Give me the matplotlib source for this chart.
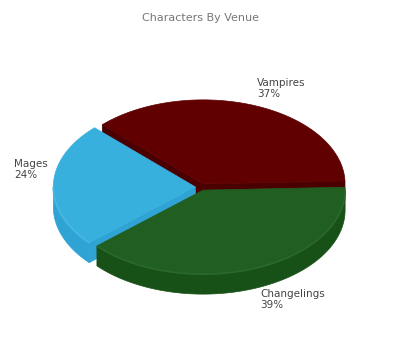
import numpy as np
import matplotlib.pyplot as plt
from matplotlib.patches import Polygon

title = "Characters By Venue"
venues = ["Vampires", "Mages", "Changelings"]
counts = [37, 24, 39]
explode = [0.04, 0.04, 0.04]

top_colors = ["#600000", "#38b0de", "#215e21"]
rim_colors = ["#6a0a0a", "#48b8e2", "#2b692b"]
side_colors = ["#4a0000", "#2fa4d4", "#175117"]

# pie geometry (pixels)
cx, cy = 201, 187
rx, ry = 142, 84
depth = 20
start = np.deg2rad(2)
label_xy = [(257, 78), (14, 159), (260, 289)]


def arc(t0, t1, ox, oy, dz=0, n=80):
    t = np.linspace(t0, t1, n)
    return np.column_stack([ox + rx * np.cos(t), oy - ry * np.sin(t) + dz])


fig = plt.figure(figsize=(4, 3.5), dpi=100)
ax = fig.add_axes([0, 0, 1, 1])
ax.set_xlim(0, 400)
ax.set_ylim(350, 0)
ax.axis("off")

total = sum(counts)
bounds = start + np.concatenate([[0], np.cumsum(counts)]) / total * 2 * np.pi
slices = []
for i in range(len(counts)):
    t0, t1 = bounds[i], bounds[i + 1]
    mid = (t0 + t1) / 2
    ox = cx + explode[i] * rx * np.cos(mid)
    oy = cy - explode[i] * ry * np.sin(mid)
    slices.append((i, t0, t1, mid, ox, oy))


def front_dist(s):
    d = abs(s[3] - 1.5 * np.pi) % (2 * np.pi)
    return min(d, 2 * np.pi - d)


# side walls, farthest first
for i, t0, t1, mid, ox, oy in sorted(slices, key=front_dist, reverse=True):
    col = side_colors[i]
    walls = []
    if np.cos(t0) > 0:
        walls.append(t0)
    if np.cos(t1) < 0:
        walls.append(t1)
    for t in walls:
        e = [ox + rx * np.cos(t), oy - ry * np.sin(t)]
        quad = [[ox, oy], e, [e[0], e[1] + depth], [ox, oy + depth]]
        ax.add_patch(Polygon(quad, closed=True, fc=col, ec=col, lw=0.5))
    a, b = max(t0, np.pi), min(t1, 2 * np.pi)
    if a < b:
        pts = np.vstack([arc(a, b, ox, oy), arc(b, a, ox, oy, depth)])
        ax.add_patch(Polygon(pts, closed=True, fc=col, ec=col, lw=0.5))

# top faces
for i, t0, t1, mid, ox, oy in slices:
    pts = np.vstack([[ox, oy], arc(t0, t1, ox, oy)])
    ax.add_patch(Polygon(pts, closed=True, fc=top_colors[i], ec=top_colors[i], lw=0.5))
    a, b = max(t0, np.pi), min(t1, 2 * np.pi)
    if a < b:
        rim = arc(a, b, ox, oy)
        ax.plot(rim[:, 0], rim[:, 1], color=rim_colors[i], lw=1.2,
                solid_capstyle="butt")

ax.text(200, 18, title, ha="center", va="center", fontsize=8, color="#777777")
for i, name in enumerate(venues):
    pct = round(100 * counts[i] / total)
    x, y = label_xy[i]
    ax.text(x, y, f"{name}\n{pct}%", ha="left", va="top", fontsize=7.5,
            color="#444444", linespacing=1.1)

fig.savefig("out.png", dpi=100)
